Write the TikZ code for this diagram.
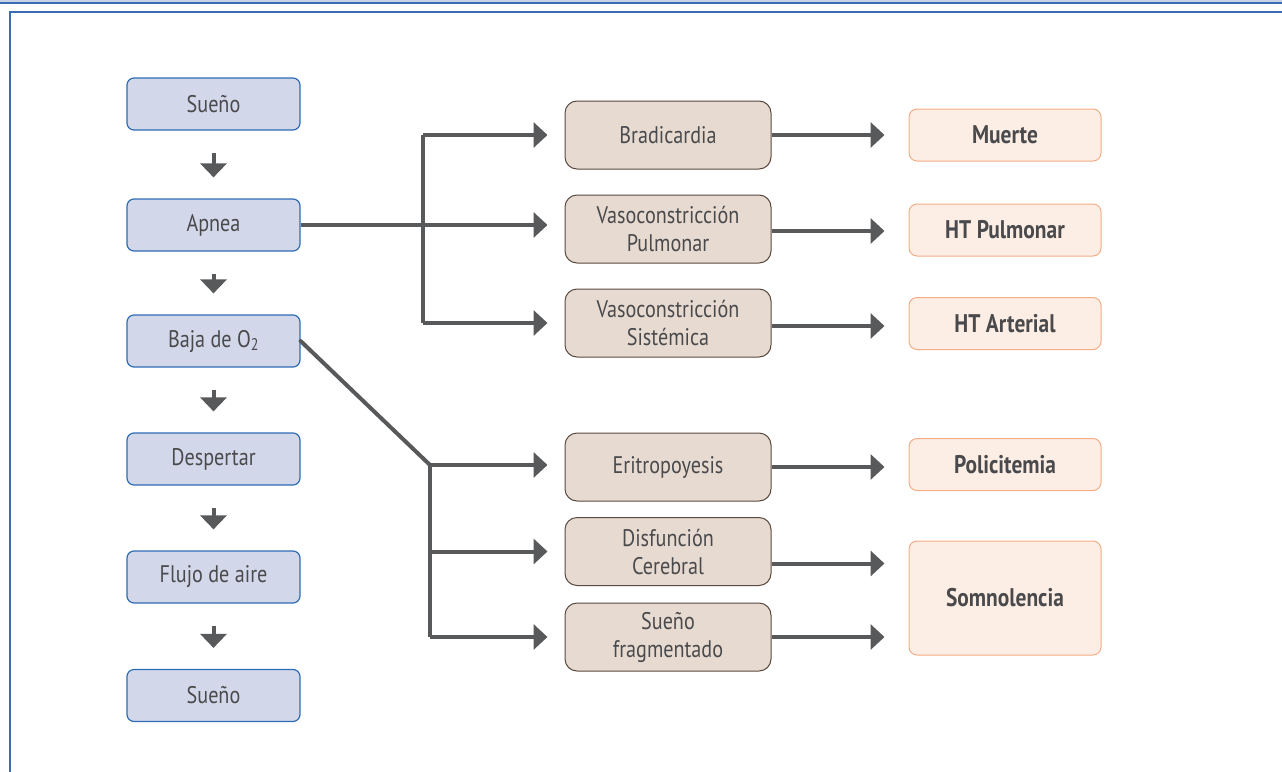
\documentclass[tikz,border=0pt]{standalone}
\usepackage{fontspec}
\setmainfont{PT Sans}[FakeStretch=0.84]
\usetikzlibrary{arrows.meta,positioning,calc}
\definecolor{txt}{HTML}{4A4A4C}
\definecolor{ln}{HTML}{58595B}
\definecolor{lfill}{HTML}{D3D7EA}
\definecolor{ldraw}{HTML}{2E6DB4}
\definecolor{mfill}{HTML}{E6DAD1}
\definecolor{mdraw}{HTML}{5A4A42}
\definecolor{rfill}{HTML}{FDEEE5}
\definecolor{rdraw}{HTML}{F4AC85}
\definecolor{frame}{HTML}{3A6DB5}
\definecolor{strip}{HTML}{C9D1E6}
\tikzset{
  lbox/.style={draw=ldraw, fill=lfill, line width=1.2pt, rounded corners=7pt,
    minimum width=173pt, minimum height=52pt, inner sep=0pt, text=txt,
    font=\fontsize{24}{28}\selectfont},
  mbox/.style={draw=mdraw, fill=mfill, line width=1pt, rounded corners=12pt,
    minimum width=206pt, minimum height=68pt, inner sep=0pt, text=txt, align=center,
    font=\fontsize{24}{28}\selectfont},
  rbox/.style={draw=rdraw, fill=rfill, line width=1pt, rounded corners=8pt,
    minimum width=192pt, minimum height=52pt, inner sep=0pt, text=txt,
    font=\fontsize{25.5}{28}\selectfont\bfseries},
  conn/.style={draw=ln, line width=4pt},
  harr/.style={conn, -{Triangle[length=14pt,width=25pt]}},
  varr/.style={conn, -{Triangle[length=14pt,width=26pt]}},
}
\begin{document}
\begin{tikzpicture}[x=1pt,y=-1pt]
\useasboundingbox (0,0) rectangle (1282,771);
% top strip and frame
\fill[strip] (0,0) rectangle (1282,3);
\draw[frame, line width=1.5pt] (0,3) -- (1282,3);
\draw[frame, line width=2pt] (10,775) -- (10,12) -- (1290,12);

% left column
\node[lbox] (s1) at (213.5,104) {Sueño};
\node[lbox] (ap) at (213.5,225) {Apnea};
\node[lbox] (bo) at (213.5,341) {Baja de O\textsubscript{2}};
\node[lbox] (de) at (213.5,459) {Despertar};
\node[lbox] (fa) at (213.5,577) {Flujo de aire};
\node[lbox] (s2) at (213.5,695.5) {Sueño};

\foreach \a/\b in {s1/ap, ap/bo, bo/de, de/fa, fa/s2}
  \draw[varr] ([yshift=-22pt]\a.south) -- ([yshift=21pt]\b.north);

% middle column
\node[mbox] (br) at (668,135) {Bradicardia};
\node[mbox] (vp) at (668,229) {Vasoconstricción\\Pulmonar};
\node[mbox] (vs) at (668,323) {Vasoconstricción\\Sistémica};
\node[mbox] (er) at (668,467) {Eritropoyesis};
\node[mbox] (di) at (668,551.5) {Disfunción\\Cerebral};
\node[mbox] (sf) at (668,637) {Sueño\\fragmentado};

% right column
\node[rbox] (mu) at (1005,135) {Muerte};
\node[rbox] (hp) at (1005,230) {HT Pulmonar};
\node[rbox] (ha) at (1005,323.5) {HT Arterial};
\node[rbox] (po) at (1005,464.5) {Policitemia};
\node[rbox, minimum height=114pt] (so) at (1005,598) {Somnolencia};

% upper bracket
\coordinate (bx) at (423,0);
\draw[conn] (bx |- vs.west) -- (bx |- br.west);
\draw[harr, shorten >=17pt] (bx |- br.west) -- (br.west);
\draw[harr, shorten >=17pt] (bx |- vs.west) -- (vs.west);
\draw[harr, shorten >=17pt] (ap.east) -- (ap.east -| vp.west);

% lower bracket
\coordinate (bj) at (430,465);
\draw[conn, line cap=round] (bo.east) -- (bj);
\draw[conn] (bj) -- (bj |- sf.west);
\draw[harr, shorten >=17pt] (bj) -- (bj -| er.west);
\draw[harr, shorten >=17pt] (bj |- di.west) -- (di.west);
\draw[harr, shorten >=17pt] (bj |- sf.west) -- (sf.west);

% to results
\draw[harr, shorten >=24pt] (br.east) -- (br.east -| mu.west);
\draw[harr, shorten >=24pt] ([yshift=-2pt]vp.east) -- ([yshift=-2pt]vp.east -| hp.west);
\draw[harr, shorten >=24pt] ([yshift=-3pt]vs.east) -- ([yshift=-3pt]vs.east -| ha.west);
\draw[harr, shorten >=24pt] (er.east) -- (er.east -| po.west);
\draw[harr, shorten >=24pt] ([yshift=-12pt]di.east) -- ([yshift=-12pt]di.east -| so.west);
\draw[harr, shorten >=24pt] (sf.east) -- (sf.east -| so.west);
\end{tikzpicture}
\end{document}
